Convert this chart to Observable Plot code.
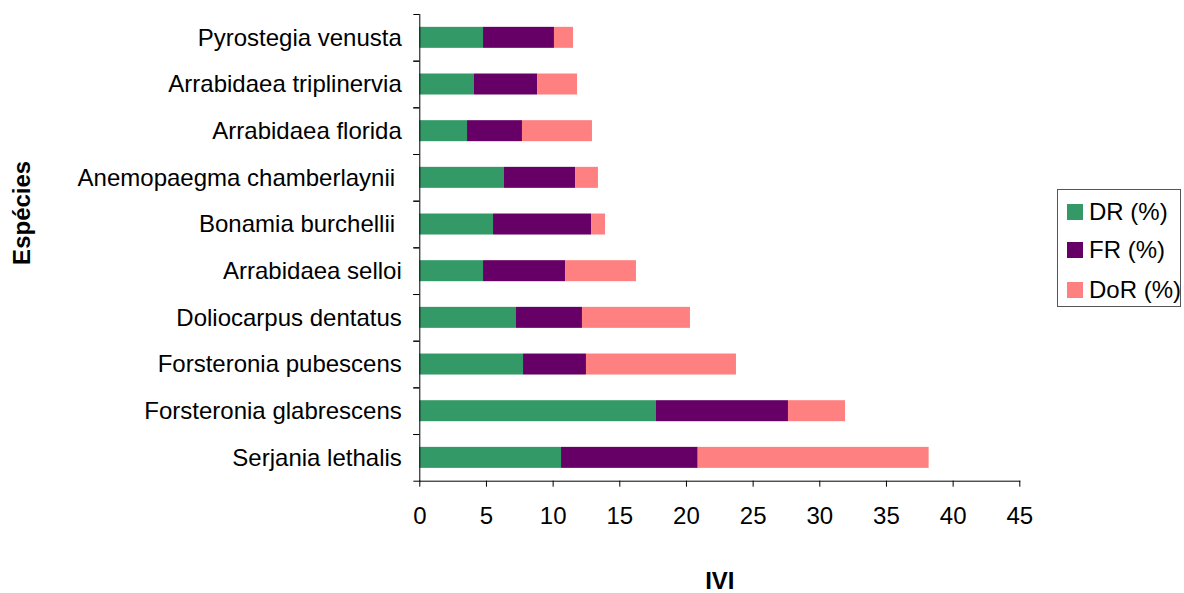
<!DOCTYPE html>
<html>
<head>
<meta charset="utf-8">
<script src="https://cdn.jsdelivr.net/npm/d3@7"></script>
<script src="https://cdn.jsdelivr.net/npm/@observablehq/plot@0.6"></script>
<style>
  html, body { margin: 0; padding: 0; background: #fff; }
  #wrap { position: relative; width: 1184px; height: 593px; font-family: "Liberation Sans", Arial, sans-serif; }
  #legend { position: absolute; left: 1057px; top: 189px; width: 124px; height: 118px; border: 1px solid #555; box-sizing: border-box; background: #fff; }
  .item { position: absolute; left: 9px; display: flex; align-items: center; font-size: 24px; color: #000; white-space: nowrap; }
  .sw { width: 16px; height: 16px; margin-right: 6px; }
</style>
</head>
<body>
<div id="wrap"></div>
<script>
const species = ["Pyrostegia venusta", "Arrabidaea triplinervia", "Arrabidaea florida", "Anemopaegma chamberlaynii ", "Bonamia burchellii ", "Arrabidaea selloi", "Doliocarpus dentatus", "Forsteronia pubescens", "Forsteronia glabrescens", "Serjania lethalis"];
const DR  = [4.78, 4.10, 3.58, 6.35, 5.53, 4.78, 7.25, 7.78, 17.75, 10.63];
const FR  = [5.32, 4.73, 4.12, 5.33, 7.35, 6.15, 4.95, 4.72, 9.90, 10.25];
const DoR = [1.43, 3.00, 5.25, 1.72, 1.05, 5.32, 8.10, 11.25, 4.28, 17.32];
const seriesNames = ["DR (%)", "FR (%)", "DoR (%)"];
const seriesColors = ["#339966", "#660066", "#FF8080"];
const xTicks = [0, 5, 10, 15, 20, 25, 30, 35, 40, 45];
const xTitle = "IVI";
const yTitle = "Espécies";

const seriesValues = [DR, FR, DoR];
const rows = [];
species.forEach((s, i) => {
  seriesNames.forEach((name, k) => rows.push({species: s, series: name, value: seriesValues[k][i]}));
});

const W = 1184, H = 593;
const mTop = 14, mBottom = 112.3, mLeft = 419.3, mRight = 164.7;
const step = (H - mTop - mBottom) / species.length;
const font = "'Liberation Sans', Arial, sans-serif";

const chart = Plot.plot({
  width: W,
  height: H,
  marginTop: mTop,
  marginBottom: mBottom,
  marginLeft: mLeft,
  marginRight: mRight,
  style: {fontFamily: font, fontSize: "24px", color: "#000", background: "#fff"},
  x: {domain: [0, 45], axis: null},
  y: {domain: species, paddingInner: 0.55, paddingOuter: 0.275, round: false, axis: null},
  color: {domain: seriesNames, range: seriesColors},
  marks: [
    Plot.barX(rows, {x: "value", y: "species", fill: "series", order: null}),
    Plot.axisX({ticks: xTicks, tickSize: 6, tickPadding: 20, label: null, tickFormat: d => String(d)}),
    Plot.axisY({tickSize: 0, tickPadding: 18, label: null, tickFormat: d => d.replace(/ $/, "\u00a0")}),
    Plot.axisY({tickSize: 6, tickFormat: () => "", label: null, dy: step / 2}),
    Plot.axisY({tickSize: 6, tickFormat: () => "", label: null, dy: -step / 2}),
    Plot.frame({anchor: "left", stroke: "#000"}),
    Plot.frame({anchor: "bottom", stroke: "#000"}),
    Plot.text([xTitle], {frameAnchor: "bottom", dy: 100, lineAnchor: "middle", fontWeight: "bold", fontSize: 24}),
    Plot.text([yTitle], {frameAnchor: "left", dx: -397, dy: -35, rotate: -90, lineAnchor: "middle", textAnchor: "middle", fontWeight: "bold", fontSize: 24})
  ]
});

const wrap = document.getElementById("wrap");
wrap.appendChild(chart);

const legend = document.createElement("div");
legend.id = "legend";
const tops = [8, 46, 86];
seriesNames.forEach((name, k) => {
  const it = document.createElement("div");
  it.className = "item";
  it.style.top = tops[k] + "px";
  const sw = document.createElement("span");
  sw.className = "sw";
  sw.style.background = seriesColors[k];
  const tx = document.createElement("span");
  tx.textContent = name;
  it.appendChild(sw);
  it.appendChild(tx);
  legend.appendChild(it);
});
wrap.appendChild(legend);
</script>
</body>
</html>
